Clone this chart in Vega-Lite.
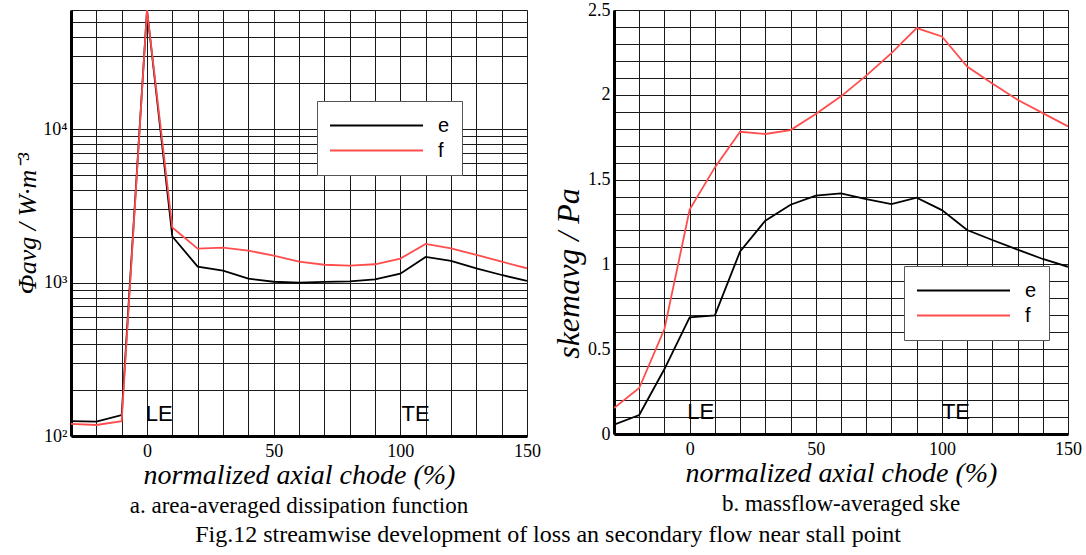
{
  "$schema": "https://vega.github.io/schema/vega-lite/v6.json",
  "background": "white",
  "padding": {"left": 14, "top": 0, "right": 5, "bottom": 0},
  "spacing": 11,
  "config": {
    "view": {"stroke": "#aaaaaa", "strokeWidth": 1},
    "axis": {
      "labelFont": "Liberation Serif", "labelFontSize": 18, "labelColor": "black",
      "titleFont": "Liberation Serif", "titleFontSize": 28, "titleFontStyle": "italic",
      "titleFontWeight": "normal", "titleColor": "black",
      "domainColor": "black", "domainWidth": 3, "ticks": false,
      "grid": true, "gridColor": "#1a1a1a", "gridOpacity": 1, "gridWidth": 1,
      "labelPadding": 6, "labelOverlap": false, "labelFlush": false
    },
    "legend": {
      "orient": "none", "title": null, "symbolType": "stroke", "symbolSize": 8649,
      "symbolStrokeWidth": 2, "clipHeight": 25, "rowPadding": 0,
      "labelFont": "Liberation Sans", "labelFontSize": 20, "labelColor": "black",
      "labelOffset": 14, "padding": 12, "strokeColor": "#555555", "fillColor": "white"
    },
    "title": {"font": "Liberation Serif", "fontSize": 23, "fontWeight": "normal", "color": "black"}
  },
  "datasets": {
    "a": [
      {"x": -30, "v": 125, "s": "e"}, {"x": -20, "v": 124, "s": "e"}, {"x": -10, "v": 137, "s": "e"},
      {"x": 0, "v": 60000, "s": "e"}, {"x": 10, "v": 2000, "s": "e"}, {"x": 20, "v": 1273, "s": "e"},
      {"x": 30, "v": 1197, "s": "e"}, {"x": 40, "v": 1062, "s": "e"}, {"x": 50, "v": 1014, "s": "e"},
      {"x": 60, "v": 1000, "s": "e"}, {"x": 70, "v": 1013, "s": "e"}, {"x": 80, "v": 1019, "s": "e"},
      {"x": 90, "v": 1052, "s": "e"}, {"x": 100, "v": 1145, "s": "e"}, {"x": 110, "v": 1472, "s": "e"},
      {"x": 120, "v": 1387, "s": "e"}, {"x": 130, "v": 1241, "s": "e"}, {"x": 140, "v": 1122, "s": "e"},
      {"x": 150, "v": 1026, "s": "e"},
      {"x": -30, "v": 120, "s": "f"}, {"x": -20, "v": 118, "s": "f"}, {"x": -10, "v": 125, "s": "f"},
      {"x": 0, "v": 60000, "s": "f"}, {"x": 10, "v": 2290, "s": "f"}, {"x": 20, "v": 1667, "s": "f"},
      {"x": 30, "v": 1693, "s": "f"}, {"x": 40, "v": 1617, "s": "f"}, {"x": 50, "v": 1500, "s": "f"},
      {"x": 60, "v": 1371, "s": "f"}, {"x": 70, "v": 1309, "s": "f"}, {"x": 80, "v": 1291, "s": "f"},
      {"x": 90, "v": 1318, "s": "f"}, {"x": 100, "v": 1435, "s": "f"}, {"x": 110, "v": 1791, "s": "f"},
      {"x": 120, "v": 1676, "s": "f"}, {"x": 130, "v": 1517, "s": "f"}, {"x": 140, "v": 1371, "s": "f"},
      {"x": 150, "v": 1241, "s": "f"}
    ],
    "b": [
      {"x": -30, "v": 0.055, "s": "e"}, {"x": -20, "v": 0.112, "s": "e"}, {"x": -10, "v": 0.383, "s": "e"},
      {"x": 0, "v": 0.688, "s": "e"}, {"x": 10, "v": 0.70, "s": "e"}, {"x": 20, "v": 1.077, "s": "e"},
      {"x": 30, "v": 1.258, "s": "e"}, {"x": 40, "v": 1.352, "s": "e"}, {"x": 50, "v": 1.405, "s": "e"},
      {"x": 60, "v": 1.419, "s": "e"}, {"x": 70, "v": 1.385, "s": "e"}, {"x": 80, "v": 1.356, "s": "e"},
      {"x": 90, "v": 1.393, "s": "e"}, {"x": 100, "v": 1.32, "s": "e"}, {"x": 110, "v": 1.203, "s": "e"},
      {"x": 120, "v": 1.144, "s": "e"}, {"x": 130, "v": 1.087, "s": "e"}, {"x": 140, "v": 1.032, "s": "e"},
      {"x": 150, "v": 0.986, "s": "e"},
      {"x": -30, "v": 0.153, "s": "f"}, {"x": -20, "v": 0.271, "s": "f"}, {"x": -10, "v": 0.619, "s": "f"},
      {"x": 0, "v": 1.323, "s": "f"}, {"x": 10, "v": 1.572, "s": "f"}, {"x": 20, "v": 1.782, "s": "f"},
      {"x": 30, "v": 1.769, "s": "f"}, {"x": 40, "v": 1.792, "s": "f"}, {"x": 50, "v": 1.887, "s": "f"},
      {"x": 60, "v": 1.991, "s": "f"}, {"x": 70, "v": 2.113, "s": "f"}, {"x": 80, "v": 2.246, "s": "f"},
      {"x": 90, "v": 2.393, "s": "f"}, {"x": 100, "v": 2.344, "s": "f"}, {"x": 110, "v": 2.167, "s": "f"},
      {"x": 120, "v": 2.067, "s": "f"}, {"x": 130, "v": 1.971, "s": "f"}, {"x": 140, "v": 1.892, "s": "f"},
      {"x": 150, "v": 1.814, "s": "f"}
    ],
    "la": [{"x": -0.5, "v": 125, "t": "LE"}, {"x": 100.5, "v": 125, "t": "TE"}],
    "lb": [{"x": -1, "v": 0.09, "t": "LE"}, {"x": 100, "v": 0.09, "t": "TE"}]
  },
  "hconcat": [
    {
      "width": 456, "height": 426,
      "title": {"text": "a. area-averaged dissipation function", "orient": "bottom", "anchor": "middle", "offset": 6},
      "encoding": {
        "x": {"field": "x", "type": "quantitative",
          "scale": {"domain": [-30, 150], "nice": false, "zero": false},
          "axis": {"values": [-30,-20,-10,0,10,20,30,40,50,60,70,80,90,100,110,120,130,140,150],
            "labelExpr": "datum.value % 50 === 0 ? datum.label : ''",
            "title": "normalized axial chode (%)", "titlePadding": 1}},
        "y": {"field": "v", "type": "quantitative",
          "scale": {"type": "log", "domain": [100, 60000], "nice": false},
          "axis": {"values": [100,200,300,400,500,600,700,800,900,1000,2000,3000,4000,5000,6000,7000,8000,9000,10000,20000,30000,40000,50000,60000],
            "labelExpr": "datum.value == 100 ? '10²' : datum.value == 1000 ? '10³' : datum.value == 10000 ? '10⁴' : ''",
            "labelPadding": 4, "titleFontSize": 26,
            "title": "Φavg / W·m⁻³", "titlePadding": 2}}
      },
      "layer": [
        {
          "data": {"name": "a"},
          "mark": {"type": "line", "strokeWidth": 1.8, "clip": true},
          "encoding": {
            "color": {"field": "s", "type": "nominal",
              "scale": {"domain": ["e", "f"], "range": ["#000000", "#ff4d4d"]},
              "legend": {"legendX": 246, "legendY": 91}}
          }
        },
        {
          "data": {"name": "la"},
          "mark": {"type": "text", "align": "left", "baseline": "alphabetic", "font": "Liberation Sans", "fontSize": 22, "color": "black"},
          "encoding": {"text": {"field": "t"}}
        }
      ]
    },
    {
      "width": 454, "height": 424,
      "title": {"text": "b. massflow-averaged ske", "orient": "bottom", "anchor": "middle", "offset": 6},
      "encoding": {
        "x": {"field": "x", "type": "quantitative",
          "scale": {"domain": [-30, 150], "nice": false, "zero": false},
          "axis": {"values": [-30,-20,-10,0,10,20,30,40,50,60,70,80,90,100,110,120,130,140,150],
            "labelExpr": "datum.value % 50 === 0 ? datum.label : ''",
            "title": "normalized axial chode (%)", "titlePadding": 1}},
        "y": {"field": "v", "type": "quantitative",
          "scale": {"domain": [0, 2.5], "nice": false},
          "axis": {"values": [0,0.1,0.2,0.3,0.4,0.5,0.6,0.7,0.8,0.9,1,1.1,1.2,1.3,1.4,1.5,1.6,1.7,1.8,1.9,2,2.1,2.2,2.3,2.4,2.5],
            "labelExpr": "indexof([0,0.5,1,1.5,2,2.5], datum.value) >= 0 ? format(datum.value, '~g') : ''",
            "labelPadding": 4, "titleFontSize": 32,
            "title": "skemavg / Pa", "titlePadding": 2, "titleY": 263}}
      },
      "layer": [
        {
          "data": {"name": "b"},
          "mark": {"type": "line", "strokeWidth": 1.8, "clip": true},
          "encoding": {
            "color": {"field": "s", "type": "nominal",
              "scale": {"domain": ["e", "f"], "range": ["#000000", "#ff4d4d"]},
              "legend": {"legendX": 290, "legendY": 256}}
          }
        },
        {
          "data": {"name": "lb"},
          "mark": {"type": "text", "align": "left", "baseline": "alphabetic", "font": "Liberation Sans", "fontSize": 22, "color": "black"},
          "encoding": {"text": {"field": "t"}}
        }
      ]
    }
  ],
  "resolve": {"scale": {"color": "independent"}, "legend": {"color": "independent"}},
  "title": {"text": "Fig.12 streamwise development of loss an secondary flow near stall point", "orient": "bottom", "anchor": "middle", "fontSize": 24, "offset": 4}
}
